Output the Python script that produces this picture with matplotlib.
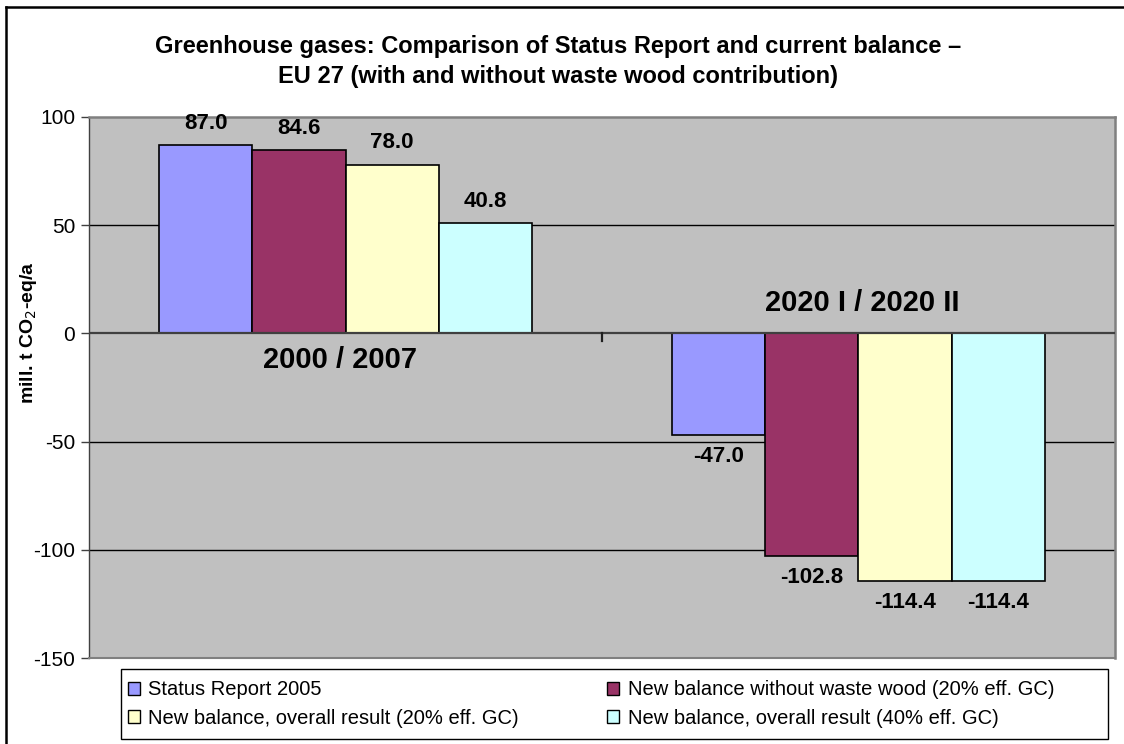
import matplotlib
matplotlib.use("Agg")
import matplotlib.pyplot as plt
from matplotlib.lines import Line2D
from matplotlib.patches import Rectangle
import numpy as np

plt.rcParams['font.family'] = ['Liberation Sans', 'DejaVu Sans']

categories = ["2000 / 2007", "2020 I / 2020 II"]
series_names = [
    "Status Report 2005",
    "New balance without waste wood (20% eff. GC)",
    "New balance, overall result (20% eff. GC)",
    "New balance, overall result (40% eff. GC)",
]
series_values = [
    [87.0, -47.0],
    [84.6, -102.8],
    [78.0, -114.4],
    [50.8, -114.4],
]
series_labels = [
    ["87.0", "-47.0"],
    ["84.6", "-102.8"],
    ["78.0", "-114.4"],
    ["40.8", "-114.4"],
]
colors = ["#9999FF", "#993366", "#FFFFCC", "#CCFFFF"]
yticks = [-150, -100, -50, 0, 50, 100]

W, H = 1124, 744
fig = plt.figure(figsize=(W / 100, H / 100), dpi=100)
fig.patch.set_facecolor("white")

# figure border (top and left visible)
fig.add_artist(Line2D([6.5 / W, 1.0], [1 - 6.5 / H, 1 - 6.5 / H], transform=fig.transFigure,
                      color="black", lw=1.8))
fig.add_artist(Line2D([6.5 / W, 6.5 / W], [0, 1 - 6.5 / H], transform=fig.transFigure,
                      color="black", lw=1.8))

left, right, top, bottom = 89, 1115, 117, 658
ax = fig.add_axes([left / W, 1 - bottom / H, (right - left) / W, (bottom - top) / H])
ax.set_facecolor("#C0C0C0")

x = np.arange(len(categories))
bw = 0.1813
offsets = (np.arange(len(series_names)) - 1.5) * bw
handles = []
for i, (name, vals, labs, col) in enumerate(zip(series_names, series_values, series_labels, colors)):
    bars = ax.bar(x + offsets[i], vals, bw, color=col, edgecolor="black", linewidth=1.2,
                  zorder=3, label=name)
    handles.append(bars)
    for b, v, lab in zip(bars, vals, labs):
        cx = b.get_x() + b.get_width() / 2
        if v >= 0:
            ax.annotate(lab, xy=(cx, v), xytext=(0, 8), textcoords="offset points",
                        ha="center", va="bottom", fontsize=16, fontweight="bold", zorder=5)
        else:
            ax.annotate(lab, xy=(cx, v), xytext=(0, -8), textcoords="offset points",
                        ha="center", va="top", fontsize=16, fontweight="bold", zorder=5)

ax.set_xlim(-0.5, len(categories) - 0.5)
ax.set_ylim(-150, 100)
ax.set_yticks(yticks)
ax.set_yticklabels([str(t) for t in yticks], fontsize=15)
ax.tick_params(axis="y", direction="out", length=6, width=1, color="#404040", pad=4)
ax.set_xticks([])
for yv in yticks[1:-1]:
    if yv != 0:
        ax.axhline(yv, color="black", lw=1.0, zorder=1)
ax.axhline(0, color="#404040", lw=1.6, zorder=4)
# category tick marks on the zero line
for xb in np.arange(-0.5, len(categories), 1.0)[1:-1]:
    ax.plot([xb, xb], [0, -3.5], color="#202020", lw=1.6, zorder=4, clip_on=False)

for s in ["top", "right"]:
    ax.spines[s].set_color("#808080")
    ax.spines[s].set_linewidth(1.8)
ax.spines["left"].set_color("#404040")
ax.spines["left"].set_linewidth(1.0)
ax.spines["bottom"].set_color("#808080")
ax.spines["bottom"].set_linewidth(1.5)

# category labels
ax.annotate(categories[0], xy=(x[0], 0), xytext=(-4, -19), textcoords="offset points",
            ha="center", va="center", fontsize=21, fontweight="bold", zorder=5)
ax.annotate(categories[1], xy=(x[1], 0), xytext=(3, 22), textcoords="offset points",
            ha="center", va="center", fontsize=21, fontweight="bold", zorder=5)

ax.set_ylabel("mill. t CO$_2$-eq/a", fontsize=14, fontweight="bold")
ax.yaxis.set_label_coords(-50 / (right - left), 0.5 + ((top + bottom) / 2 - 333) / (bottom - top))

fig.text(558 / W, 1 - 47 / H, "Greenhouse gases: Comparison of Status Report and current balance \u2013",
         ha="center", va="center", fontsize=17, fontweight="bold")
fig.text(558 / W, 1 - 76 / H, "EU 27 (with and without waste wood contribution)",
         ha="center", va="center", fontsize=17, fontweight="bold")

# legend box
lx0, lx1, ly0, ly1 = 121, 1108, 669, 739
fig.add_artist(Rectangle((lx0 / W, 1 - ly1 / H), (lx1 - lx0) / W, (ly1 - ly0) / H,
                         transform=fig.transFigure, facecolor="white", edgecolor="black",
                         lw=1.0, zorder=2))
order = [0, 2, 1, 3]
leg = fig.legend([handles[i] for i in order], [series_names[i] for i in order],
                 ncol=2, loc="center left",
                 bbox_to_anchor=(124 / W, 1 - (ly0 + ly1) / 2 / H),
                 fontsize=14.5, frameon=False,
                 handlelength=0.6, handleheight=0.6, handletextpad=0.4,
                 columnspacing=4.4, borderaxespad=0, borderpad=0.2, labelspacing=0.45)
leg.set_zorder(3)
for h in leg.legend_handles:
    h.set_linewidth(1.0)

fig.savefig("out.png", dpi=100, facecolor="white")
